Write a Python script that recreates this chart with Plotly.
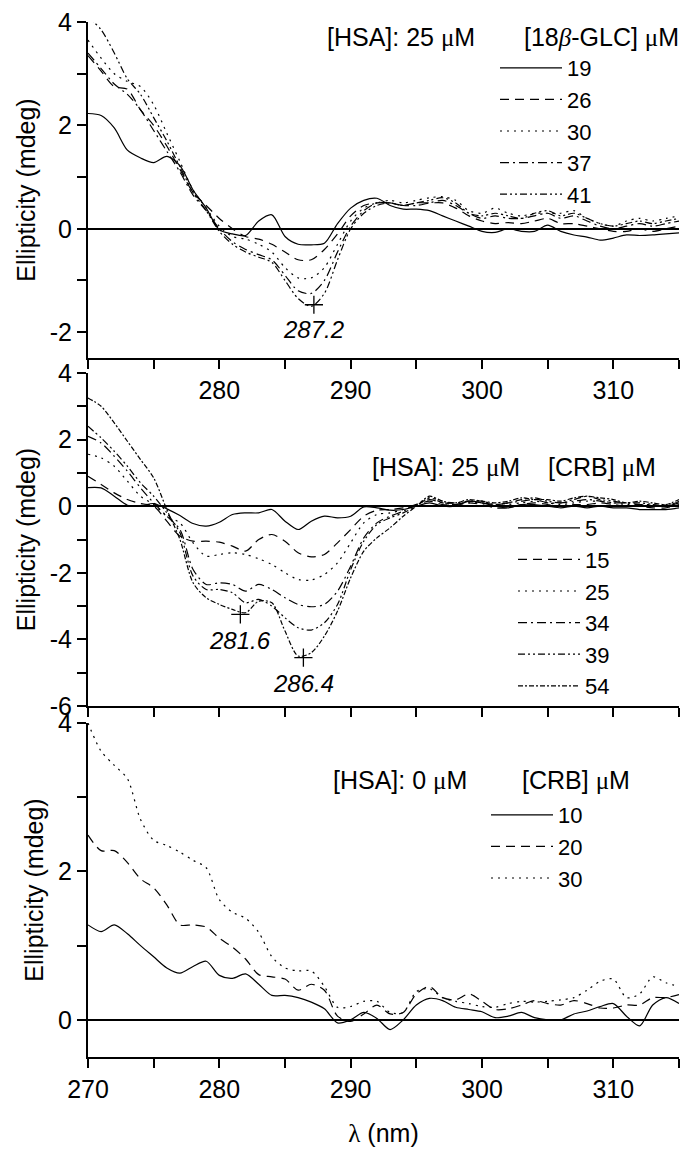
import plotly.graph_objects as go

# ---------------- data ----------------
wavelength = list(range(270, 316))  # nm, 1 nm steps

# Panel A: [HSA] 25 uM with 18beta-GLC
glc_labels = ["19", "26", "30", "37", "41"]
glc_19 = [2.23, 2.19, 1.95, 1.52, 1.37, 1.28, 1.40, 1.22, 0.75, 0.40, -0.02, -0.10, -0.13, 0.15, 0.27, -0.15,
          -0.30, -0.31, -0.28, 0.10, 0.40, 0.55, 0.59, 0.45, 0.38, 0.38, 0.35, 0.25, 0.15, 0.05, -0.05, -0.07,
          0.0, -0.05, -0.05, 0.07, -0.05, -0.12, -0.16, -0.22, -0.18, -0.12, -0.13, -0.12, -0.10, -0.08]
glc_26 = [3.35, 3.05, 2.75, 2.70, 2.30, 2.00, 1.60, 1.15, 0.70, 0.45, 0.20, 0.0, -0.15, -0.20, -0.30, -0.45,
          -0.60, -0.60, -0.40, -0.10, 0.25, 0.45, 0.50, 0.50, 0.45, 0.50, 0.50, 0.50, 0.40, 0.25, 0.15, 0.10,
          0.12, 0.10, 0.15, 0.20, 0.10, 0.10, 0.05, 0.0, -0.05, -0.05, 0.0, -0.05, 0.0, 0.05]
glc_30 = [3.65, 3.30, 3.00, 2.85, 2.75, 2.40, 1.85, 1.30, 0.75, 0.40, 0.05, -0.15, -0.20, -0.30, -0.45, -0.75,
          -0.95, -0.95, -0.75, -0.30, 0.15, 0.40, 0.50, 0.55, 0.50, 0.55, 0.60, 0.62, 0.55, 0.35, 0.30, 0.40,
          0.30, 0.25, 0.30, 0.30, 0.30, 0.35, 0.20, 0.10, 0.05, 0.15, 0.20, 0.15, 0.20, 0.25]
glc_37 = [3.40, 3.10, 2.80, 2.60, 2.30, 1.90, 1.50, 1.10, 0.65, 0.35, 0.0, -0.25, -0.40, -0.50, -0.60, -0.90,
          -1.20, -1.25, -1.00, -0.45, 0.05, 0.35, 0.50, 0.50, 0.45, 0.45, 0.50, 0.55, 0.45, 0.30, 0.20, 0.25,
          0.20, 0.20, 0.25, 0.30, 0.20, 0.25, 0.15, 0.05, 0.0, 0.05, 0.10, 0.05, 0.10, 0.15]
glc_41 = [4.10, 3.85, 3.40, 2.90, 2.60, 2.15, 1.70, 1.20, 0.70, 0.35, -0.05, -0.30, -0.45, -0.55, -0.65, -1.00,
          -1.35, -1.50, -1.25, -0.60, 0.0, 0.30, 0.45, 0.50, 0.45, 0.50, 0.55, 0.60, 0.50, 0.30, 0.25, 0.30,
          0.25, 0.20, 0.30, 0.35, 0.25, 0.30, 0.20, 0.10, 0.05, 0.10, 0.15, 0.10, 0.15, 0.20]

# Panel B: [HSA] 25 uM with CRB
crb_labels = ["5", "15", "25", "34", "39", "54"]
crb_5 = [0.56, 0.55, 0.30, 0.03, 0.0, 0.08, -0.08, -0.28, -0.52, -0.60, -0.48, -0.25, -0.20, -0.20, -0.10, -0.45,
         -0.70, -0.45, -0.30, -0.35, -0.30, -0.02, -0.05, -0.12, -0.10, 0.0, 0.10, 0.0, 0.0, 0.15, 0.10, 0.0,
         -0.05, 0.05, 0.05, 0.0, -0.05, 0.0, -0.05, 0.0, -0.05, -0.05, -0.10, -0.10, -0.10, -0.05]
crb_15 = [0.90, 0.65, 0.40, 0.20, 0.08, 0.0, -0.45, -0.90, -1.05, -1.05, -1.08, -1.20, -1.35, -1.00, -0.85, -1.05,
          -1.40, -1.52, -1.45, -1.10, -0.70, -0.30, -0.12, -0.10, -0.05, 0.05, 0.15, 0.05, 0.05, 0.10, 0.05, -0.05,
          -0.05, 0.05, 0.10, 0.05, 0.0, 0.05, 0.05, 0.10, 0.05, 0.0, 0.0, -0.05, -0.05, 0.05]
crb_25 = [1.56, 1.45, 1.20, 0.75, 0.30, 0.05, -0.30, -0.50, -1.10, -1.50, -1.45, -1.40, -1.45, -1.58, -1.75, -2.00,
          -2.20, -2.22, -2.05, -1.70, -1.10, -0.50, -0.25, -0.20, -0.10, 0.05, 0.25, 0.15, 0.05, 0.10, 0.10, 0.0,
          0.05, 0.10, 0.15, 0.10, 0.05, 0.10, 0.15, 0.15, 0.10, 0.05, 0.05, 0.0, 0.05, 0.10]
crb_34 = [2.10, 1.90, 1.50, 1.05, 0.55, 0.10, -0.30, -0.70, -1.90, -2.35, -2.30, -2.35, -2.55, -2.35, -2.50, -2.75,
          -2.95, -3.02, -2.95, -2.55, -1.80, -0.95, -0.50, -0.30, -0.15, 0.05, 0.20, 0.10, 0.10, 0.15, 0.10, 0.05,
          0.10, 0.15, 0.20, 0.10, 0.10, 0.15, 0.20, 0.15, 0.10, 0.10, 0.05, 0.05, 0.0, 0.10]
crb_39 = [2.40, 2.05, 1.65, 1.20, 0.70, 0.30, -0.20, -0.80, -2.10, -2.50, -2.50, -2.60, -2.90, -2.80, -3.00, -3.35,
          -3.65, -3.72, -3.50, -2.95, -1.90, -1.05, -0.55, -0.35, -0.20, 0.0, 0.25, 0.10, 0.05, 0.15, 0.15, 0.05,
          0.10, 0.20, 0.25, 0.15, 0.10, 0.20, 0.30, 0.20, 0.15, 0.10, 0.10, 0.05, 0.0, 0.15]
crb_54 = [3.25, 3.00, 2.50, 1.95, 1.40, 0.85, -0.10, -1.00, -2.30, -2.75, -2.95, -3.10, -3.20, -2.85, -2.90, -3.75,
          -4.50, -4.40, -3.90, -3.15, -2.15, -1.35, -0.95, -0.65, -0.30, 0.0, 0.30, 0.15, 0.10, 0.20, 0.15, 0.10,
          0.15, 0.25, 0.20, 0.20, 0.15, 0.25, 0.30, 0.25, 0.20, 0.10, 0.15, 0.10, 0.05, 0.20]

# Panel C: [HSA] 0 uM, CRB alone
free_labels = ["10", "20", "30"]
free_10 = [1.28, 1.19, 1.28, 1.16, 1.00, 0.85, 0.70, 0.63, 0.72, 0.79, 0.60, 0.56, 0.62, 0.48, 0.33, 0.33,
           0.30, 0.24, 0.15, -0.04, 0.0, 0.10, 0.02, -0.13, 0.0, 0.20, 0.29, 0.26, 0.17, 0.14, 0.11, 0.03,
           0.05, 0.10, 0.03, 0.0, 0.0, 0.08, 0.12, 0.18, 0.22, 0.05, -0.08, 0.20, 0.30, 0.22]
free_20 = [2.49, 2.28, 2.28, 2.12, 1.90, 1.78, 1.55, 1.28, 1.28, 1.25, 1.10, 0.98, 0.82, 0.61, 0.58, 0.55,
           0.40, 0.48, 0.40, 0.05, -0.02, 0.08, 0.20, 0.08, 0.10, 0.35, 0.45, 0.30, 0.27, 0.35, 0.25, 0.14,
           0.15, 0.20, 0.26, 0.22, 0.20, 0.26, 0.22, 0.16, 0.16, 0.20, 0.20, 0.30, 0.30, 0.34]
free_30 = [4.00, 3.62, 3.43, 3.25, 2.70, 2.42, 2.35, 2.26, 2.15, 2.05, 1.62, 1.45, 1.37, 1.18, 0.85, 0.70,
           0.66, 0.66, 0.45, 0.17, 0.18, 0.25, 0.25, 0.10, 0.10, 0.38, 0.42, 0.30, 0.25, 0.22, 0.18, 0.17,
           0.22, 0.25, 0.24, 0.25, 0.27, 0.30, 0.40, 0.52, 0.55, 0.30, 0.35, 0.58, 0.50, 0.45]

# marked extrema
peakA_x = [287.2]
peakA_y = [-1.47]
peakB_x = [281.6, 286.4]
peakB_y = [-3.25, -4.55]

# tick labels
x_tickvals = [270, 275, 280, 285, 290, 295, 300, 305, 310, 315]
x_text_top = ["", "", "280", "", "290", "", "300", "", "310", ""]
x_text_mid = [""] * 10
x_text_bot = ["270", "", "280", "", "290", "", "300", "", "310", ""]
yA_ticks = [-2, 0, 2, 4]
yB_ticks = [-6, -4, -2, 0, 2, 4]
yC_ticks = [0, 2, 4]

# ---------------- styling ----------------
FONT = "Liberation Sans"
SERIF = "Liberation Serif"
MU = '<span style="font-family:%s">μ</span>' % SERIF
dashes = {
    "solid": "solid",
    "dash": "9px,6px",
    "dot": "2px,5px",
    "dashdot": "9px,4px,2px,4px",
    "dashdotdot": "7px,3px,2px,3px,2px,3px",
    "shortdashdot": "5px,2px,2px,2px",
}

fig = go.Figure()

def add_series(xs, ys, name, dash, ax, legend):
    fig.add_trace(go.Scatter(
        x=xs, y=ys, name=name, mode="lines",
        line=dict(color="black", width=1.2, dash=dash, shape="spline", smoothing=0.8),
        xaxis="x" + ax, yaxis="y" + ax, legend=legend, cliponaxis=True))

top_series = [glc_19, glc_26, glc_30, glc_37, glc_41]
top_dash = ["solid", "dash", "dot", "dashdot", "dashdotdot"]
for lab, ys, d in zip(glc_labels, top_series, top_dash):
    add_series(wavelength, ys, lab, dashes[d], "", "legend")

mid_series = [crb_5, crb_15, crb_25, crb_34, crb_39, crb_54]
mid_dash = ["solid", "dash", "dot", "dashdot", "dashdotdot", "shortdashdot"]
for lab, ys, d in zip(crb_labels, mid_series, mid_dash):
    add_series(wavelength, ys, lab, dashes[d], "2", "legend2")

bot_series = [free_10, free_20, free_30]
bot_dash = ["solid", "dash", "dot"]
for lab, ys, d in zip(free_labels, bot_series, bot_dash):
    add_series(wavelength, ys, lab, dashes[d], "3", "legend3")

# peak markers
fig.add_trace(go.Scatter(x=peakA_x, y=peakA_y, mode="markers", showlegend=False,
                         marker=dict(symbol="cross-thin", size=13, line=dict(color="black", width=1.3)),
                         xaxis="x", yaxis="y"))
fig.add_trace(go.Scatter(x=peakB_x, y=peakB_y, mode="markers", showlegend=False,
                         marker=dict(symbol="cross-thin", size=13, line=dict(color="black", width=1.3)),
                         xaxis="x2", yaxis="y2"))

W, H = 686, 1150
ML, MR, MT, MB = 88, 7, 22, 93
PW, PH = W - ML - MR, H - MT - MB

def px(xp):
    return (xp - ML) / PW

def py(yp):
    return (H - MB - yp) / PH

tickfont = dict(family=FONT, size=25, color="black")

def xaxis(domain_anchor, ticktext, title=None):
    d = dict(range=[270, 315], anchor=domain_anchor, domain=[0, 1],
             showline=True, linewidth=2, linecolor="black", mirror=False,
             ticks="outside", ticklen=9, tickwidth=2, tickcolor="black",
             tickvals=x_tickvals, ticktext=ticktext, tickfont=tickfont,
             showgrid=False, zeroline=False)
    if title:
        d["title"] = dict(text=title, font=dict(family=FONT, size=25, color="black"), standoff=22)
    return d

def yaxis(rng, dom, anchor, tickvals):
    return dict(range=rng, domain=dom, anchor=anchor,
                showline=True, linewidth=2, linecolor="black",
                ticks="outside", ticklen=9, tickwidth=2, tickcolor="black",
                tickvals=tickvals, ticktext=[str(v) for v in tickvals], tickfont=tickfont,
                minor=dict(dtick=1, tick0=0, ticks="outside", ticklen=9, tickwidth=2, tickcolor="black",
                           showgrid=False),
                showgrid=False, zeroline=True, zerolinecolor="black", zerolinewidth=2.2,
                title=dict(text="Ellipticity (mdeg)", font=dict(family=FONT, size=25, color="black"),
                           standoff=7))

legend_font = dict(family=FONT, size=22, color="black")
fig.update_layout(
    width=W, height=H,
    margin=dict(l=ML, r=MR, t=MT, b=MB, pad=0),
    paper_bgcolor="white", plot_bgcolor="white",
    font=dict(family=FONT, color="black"),
    xaxis=xaxis("y", x_text_top),
    xaxis2=xaxis("y2", x_text_mid),
    xaxis3=xaxis("y3", x_text_bot,
                 title='<span style="font-family:%s">λ</span> (nm)' % SERIF),
    yaxis=yaxis([-2.5, 4], [py(358), py(22)], "x", yA_ticks),
    yaxis2=yaxis([-6, 4], [py(706), py(373)], "x2", yB_ticks),
    yaxis3=yaxis([-0.5, 4], [py(1057), py(723)], "x3", yC_ticks),
    legend=dict(x=px(495), y=py(47), xanchor="left", yanchor="top",
                font=legend_font, bgcolor="rgba(0,0,0,0)", itemwidth=62, tracegroupgap=0),
    legend2=dict(x=px(513), y=py(507), xanchor="left", yanchor="top",
                 font=legend_font, bgcolor="rgba(0,0,0,0)", itemwidth=62, tracegroupgap=0),
    legend3=dict(x=px(486), y=py(794), xanchor="left", yanchor="top",
                 font=legend_font, bgcolor="rgba(0,0,0,0)", itemwidth=62, tracegroupgap=0),
    showlegend=True,
)

ann_font = dict(family=FONT, size=25, color="black")
headers = [
    ("[HSA]: 25 %sM" % MU, 401, 37),
    ('[18<span style="font-family:%s"><i>β</i></span>-GLC] %sM' % (SERIF, MU), 601, 37),
    ("[HSA]: 25 %sM" % MU, 446, 467),
    ("[CRB] %sM" % MU, 602, 467),
    ("[HSA]: 0 %sM" % MU, 400, 780),
    ("[CRB] %sM" % MU, 576, 780),
]
for text, xp_, yp_ in headers:
    fig.add_annotation(text=text, x=px(xp_), y=py(yp_), xref="paper", yref="paper",
                       xanchor="center", yanchor="middle", showarrow=False, font=ann_font)

pk_font = dict(family=FONT, size=24, color="black")
for xv, yv in zip(peakA_x, peakA_y):
    fig.add_annotation(text="<i>%.1f</i>" % xv, x=xv, y=yv, xref="x", yref="y",
                       yshift=-25, showarrow=False, font=pk_font)
for xv, yv in zip(peakB_x, peakB_y):
    fig.add_annotation(text="<i>%.1f</i>" % xv, x=xv, y=yv, xref="x2", yref="y2",
                       yshift=-26, showarrow=False, font=pk_font)

fig.write_html("out.html")
